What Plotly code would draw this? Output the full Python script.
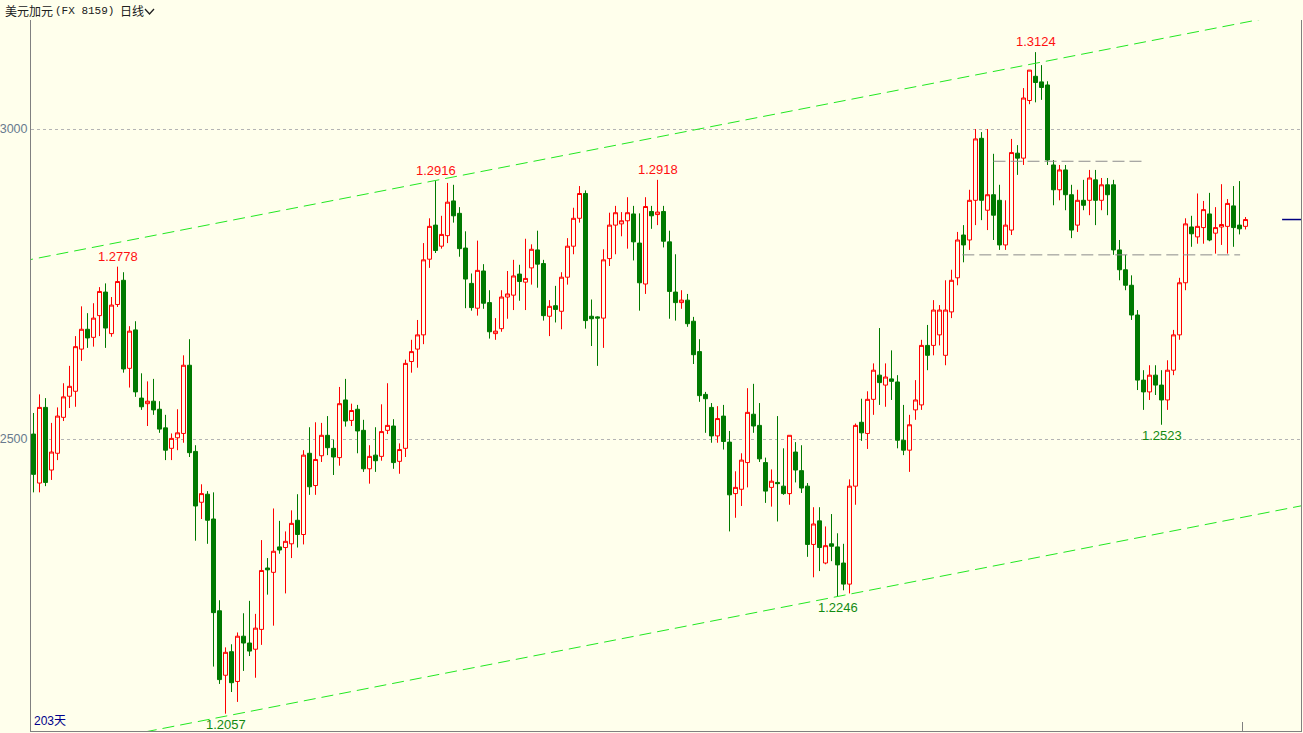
import plotly.graph_objects as go

# USD/CAD daily candles, values in pips of 1.xxxx (axis shows 2500 = 1.2500)
idx = list(range(203))

open_ = [2508, 2429, 2551, 2450, 2477, 2535, 2569, 2577, 2645, 2677,
         2664, 2699, 2737, 2670, 2717, 2756, 2614, 2676, 2566, 2557,
         2561, 2548, 2518, 2485, 2502, 2509, 2619, 2480, 2398, 2411,
         2371, 2223, 2119, 2157, 2109, 2182, 2171, 2161, 2193, 2292,
         2285, 2326, 2325, 2331, 2369, 2346, 2477, 2425, 2473, 2506,
         2485, 2470, 2563, 2530, 2548, 2514, 2452, 2474, 2472, 2514,
         2521, 2464, 2485, 2625, 2645, 2668, 2790, 2845, 2811, 2828,
         2884, 2864, 2808, 2751, 2711, 2771, 2720, 2670, 2678, 2729,
         2732, 2766, 2753, 2776, 2805, 2783, 2698, 2715, 2706, 2761,
         2811, 2856, 2896, 2698, 2697, 2695, 2791, 2845, 2847, 2852,
         2863, 2816, 2750, 2867, 2862, 2867, 2818, 2737, 2720, 2724,
         2690, 2641, 2572, 2551, 2505, 2537, 2495, 2412, 2419, 2462,
         2540, 2522, 2462, 2422, 2430, 2424, 2412, 2479, 2449, 2424,
         2330, 2368, 2300, 2331, 2326, 2300, 2266, 2424, 2527, 2509,
         2564, 2603, 2587, 2597, 2592, 2498, 2482, 2547, 2555, 2651,
         2651, 2668, 2635, 2705, 2760, 2829, 2821, 2885, 2985, 2869,
         2894, 2885, 2813, 2837, 2961, 2953, 3046, 3085, 3076, 3071,
         2942, 2902, 2934, 2894, 2845, 2885, 2885, 2918, 2885, 2910,
         2910, 2805, 2773, 2748, 2700, 2595, 2576, 2603, 2587, 2563,
         2611, 2668, 2752, 2842, 2826, 2841, 2863, 2832, 2842, 2843,
         2876, 2845, 2843]

high = [2542, 2572, 2566, 2526, 2551, 2590, 2618, 2666, 2714, 2703,
        2719, 2745, 2751, 2729, 2778, 2769, 2682, 2690, 2606, 2593,
        2597, 2561, 2539, 2509, 2548, 2635, 2661, 2490, 2427, 2416,
        2414, 2240, 2164, 2169, 2188, 2219, 2239, 2218, 2337, 2308,
        2388, 2368, 2351, 2385, 2411, 2482, 2519, 2527, 2526, 2537,
        2499, 2584, 2597, 2557, 2555, 2531, 2490, 2519, 2556, 2590,
        2532, 2493, 2628, 2660, 2692, 2816, 2856, 2916, 2860, 2913,
        2910, 2874, 2835, 2767, 2820, 2782, 2740, 2695, 2740, 2771,
        2789, 2781, 2823, 2814, 2836, 2789, 2724, 2747, 2769, 2824,
        2873, 2908, 2901, 2725, 2698, 2806, 2865, 2876, 2866, 2890,
        2876, 2864, 2890, 2876, 2918, 2876, 2836, 2798, 2740, 2734,
        2697, 2661, 2576, 2558, 2553, 2555, 2513, 2448, 2477, 2582,
        2589, 2558, 2470, 2451, 2537, 2485, 2506, 2495, 2490, 2429,
        2390, 2390, 2359, 2379, 2348, 2331, 2435, 2525, 2565, 2577,
        2622, 2679, 2622, 2643, 2603, 2555, 2539, 2595, 2660, 2684,
        2724, 2716, 2756, 2773, 2834, 2845, 2902, 3000, 2995, 3000,
        2960, 2910, 2885, 2984, 2974, 3066, 3095, 3124, 3103, 3077,
        2950, 2942, 2942, 2910, 2902, 2918, 2934, 2934, 2921, 2921,
        2918, 2821, 2797, 2764, 2708, 2611, 2619, 2619, 2611, 2627,
        2676, 2760, 2856, 2860, 2896, 2884, 2897, 2874, 2911, 2887,
        2908, 2916, 2858]

low = [2414, 2414, 2424, 2434, 2466, 2529, 2550, 2552, 2626, 2647,
       2649, 2666, 2647, 2665, 2713, 2607, 2583, 2568, 2547, 2521,
       2539, 2510, 2466, 2466, 2482, 2494, 2471, 2336, 2371, 2331,
       2133, 2105, 2057, 2092, 2076, 2126, 2150, 2115, 2168, 2249,
       2199, 2315, 2251, 2308, 2325, 2330, 2410, 2410, 2463, 2474,
       2442, 2457, 2520, 2521, 2477, 2447, 2428, 2447, 2465, 2508,
       2452, 2444, 2471, 2607, 2615, 2653, 2776, 2800, 2807, 2816,
       2849, 2794, 2711, 2707, 2699, 2710, 2662, 2660, 2673, 2694,
       2708, 2723, 2708, 2749, 2744, 2691, 2666, 2688, 2677, 2749,
       2798, 2849, 2678, 2650, 2618, 2647, 2779, 2798, 2827, 2807,
       2788, 2707, 2734, 2839, 2845, 2809, 2694, 2691, 2710, 2681,
       2621, 2560, 2510, 2494, 2494, 2483, 2351, 2373, 2392, 2422,
       2510, 2463, 2397, 2391, 2367, 2410, 2394, 2430, 2413, 2310,
       2277, 2287, 2298, 2303, 2246, 2256, 2251, 2394, 2497, 2484,
       2539, 2555, 2552, 2563, 2485, 2474, 2447, 2531, 2547, 2611,
       2635, 2651, 2619, 2695, 2748, 2785, 2805, 2845, 2853, 2837,
       2821, 2805, 2805, 2829, 2926, 2942, 3040, 3043, 3047, 2942,
       2877, 2885, 2869, 2824, 2834, 2869, 2861, 2845, 2869, 2861,
       2797, 2756, 2740, 2692, 2579, 2547, 2563, 2571, 2523, 2547,
       2603, 2660, 2740, 2810, 2815, 2815, 2819, 2799, 2813, 2799,
       2810, 2830, 2838]

close = [2443, 2551, 2430, 2479, 2537, 2568, 2585, 2649, 2677, 2663,
         2695, 2738, 2679, 2716, 2754, 2613, 2674, 2576, 2552, 2561,
         2547, 2516, 2482, 2501, 2510, 2619, 2478, 2392, 2412, 2369,
         2220, 2112, 2156, 2107, 2182, 2171, 2158, 2195, 2288, 2289,
         2319, 2321, 2335, 2364, 2346, 2474, 2423, 2467, 2506, 2486,
         2471, 2557, 2529, 2546, 2513, 2452, 2472, 2465, 2512, 2522,
         2462, 2483, 2622, 2641, 2668, 2789, 2843, 2804, 2830, 2882,
         2860, 2807, 2758, 2712, 2772, 2719, 2673, 2674, 2729, 2734,
         2763, 2754, 2759, 2806, 2782, 2699, 2714, 2709, 2761, 2811,
         2856, 2896, 2691, 2694, 2695, 2789, 2845, 2865, 2852, 2865,
         2818, 2752, 2875, 2860, 2866, 2819, 2738, 2720, 2724, 2686,
         2636, 2570, 2565, 2505, 2533, 2496, 2410, 2422, 2466, 2543,
         2521, 2468, 2416, 2432, 2428, 2412, 2506, 2450, 2421, 2330,
         2363, 2325, 2328, 2327, 2297, 2266, 2424, 2522, 2510, 2564,
         2611, 2591, 2600, 2593, 2498, 2482, 2523, 2563, 2651, 2635,
         2708, 2708, 2708, 2756, 2821, 2813, 2885, 2984, 2885, 2894,
         2861, 2813, 2845, 2962, 2953, 3050, 3095, 3075, 3067, 2950,
         2902, 2934, 2894, 2837, 2885, 2877, 2921, 2885, 2910, 2894,
         2805, 2773, 2748, 2700, 2595, 2576, 2603, 2587, 2563, 2611,
         2668, 2752, 2847, 2831, 2843, 2870, 2821, 2841, 2846, 2880,
         2841, 2839, 2854]

# marked extremes (candle index)
peak_idx = [14, 67, 104, 167]
trough_idx = [32, 134, 188]

# channel anchors (candle index, value)
upper_pts = [(67, 2917), (167, 3106)]
lower_pts = [(32, 2053), (134, 2246)]

# horizontal support/resistance segments: (level, start idx, end idx)
hlines = [(2948, 160.0, 185.0), (2797, 154.8, 201.1)]

day_count_label = "203天"
y_ticks = [2500, 3000]

BG = "#FFFFEC"
UP = "#FF0000"
DOWN = "#007A00"

fig = go.Figure()

fig.add_trace(go.Candlestick(
    x=idx, open=open_, high=high, low=low, close=close,
    increasing=dict(line=dict(color=UP, width=1), fillcolor=BG),
    decreasing=dict(line=dict(color=DOWN, width=1), fillcolor=DOWN),
    whiskerwidth=0, hoverinfo="skip", showlegend=False,
))


def extend(p, q, xs):
    (x1, y1), (x2, y2) = p, q
    s = (y2 - y1) / (x2 - x1)
    return [y1 + s * (x - x1) for x in xs]


ext_x = [-5, 220]
for pts in (upper_pts, lower_pts):
    fig.add_trace(go.Scatter(
        x=ext_x, y=extend(pts[0], pts[1], ext_x), mode="lines",
        line=dict(color="#22E822", width=1, dash="12px,6px"),
        hoverinfo="skip", showlegend=False))

for lvl, x0, x1 in hlines:
    fig.add_trace(go.Scatter(
        x=[x0, x1], y=[lvl, lvl], mode="lines",
        line=dict(color="#8C8C8C", width=1, dash="12px,5px"),
        hoverinfo="skip", showlegend=False))

annotations = []
for i in peak_idx:
    annotations.append(dict(
        x=i, y=high[i], xref="x", yref="y", text=f"{1 + high[i] / 10000:.4f}",
        showarrow=False, xanchor="center", yanchor="bottom", yshift=1,
        font=dict(family="Liberation Sans", size=13, color="#FF1010")))
for i in trough_idx:
    annotations.append(dict(
        x=i, y=low[i], xref="x", yref="y", text=f"{1 + low[i] / 10000:.4f}",
        showarrow=False, xanchor="center", yanchor="top", yshift=-1,
        font=dict(family="Liberation Sans", size=13, color="#128A12")))

# header
HY = (731 - 11) / 711
annotations.append(dict(x=(3 - 31) / 1270, y=HY, xref="paper", yref="paper",
                        text="美元加元", showarrow=False, xanchor="left", yanchor="middle",
                        font=dict(family="Noto Sans CJK SC", size=12, color="#202020")))
annotations.append(dict(x=(53 - 31) / 1270, y=HY, xref="paper", yref="paper",
                        text="(FX 8159)", showarrow=False, xanchor="left", yanchor="middle",
                        font=dict(family="Liberation Mono", size=11, color="#202020")))
annotations.append(dict(x=(118 - 31) / 1270, y=HY, xref="paper", yref="paper",
                        text="日线", showarrow=False, xanchor="left", yanchor="middle",
                        font=dict(family="Noto Sans CJK SC", size=12, color="#202020")))
annotations.append(dict(x=(32 - 31) / 1270, y=(731 - 721) / 711, xref="paper", yref="paper",
                        text=day_count_label, showarrow=False, xanchor="left", yanchor="middle",
                        font=dict(family="Liberation Sans, Noto Sans CJK SC", size=12, color="#00008B")))

shapes = [
    # chevron in header
    dict(type="path", xref="paper", yref="paper",
         path=f"M {(145 - 31) / 1270},{(731 - 9) / 711} L {(149.5 - 31) / 1270},{(731 - 14) / 711} "
              f"L {(154 - 31) / 1270},{(731 - 9) / 711}",
         line=dict(color="#202020", width=1.3)),
    # last price marker
    dict(type="line", xref="x", yref="y", x0=208.1, x1=211.3, y0=close[-1], y1=close[-1],
         line=dict(color="#000080", width=1.5)),
    # small bottom tick
    dict(type="line", xref="x", yref="paper", x0=201.5, x1=201.5, y0=0, y1=(731 - 722) / 711,
         line=dict(color="#808080", width=1)),
]

fig.update_layout(
    width=1303, height=733,
    margin=dict(l=31, r=2, t=20, b=2),
    paper_bgcolor=BG, plot_bgcolor=BG,
    showlegend=False, boxgap=1 / 3, boxgroupgap=0,
    annotations=annotations, shapes=shapes,
    xaxis=dict(range=[-0.41667, 211.25], showgrid=False, zeroline=False, showticklabels=False,
               ticks="", showline=True, linecolor="#808080", linewidth=1, automargin=False,
               rangeslider=dict(visible=False), fixedrange=True),
    yaxis=dict(range=[2029.1, 3175.8], tickvals=y_ticks, ticktext=[str(v) for v in y_ticks],
               showgrid=True, gridcolor="#B4B4B4", griddash="dot", gridwidth=1,
               zeroline=False, showline=True, mirror=True, linecolor="#808080", linewidth=1,
               ticks="", automargin=False,
               tickfont=dict(family="Liberation Sans", size=12.5, color="#687A8E"),
               fixedrange=True),
)

fig.write_html("out.html", config={"displayModeBar": False},
               post_script="document.body.style.margin='0';document.body.style.background='#FFFFEC';")
